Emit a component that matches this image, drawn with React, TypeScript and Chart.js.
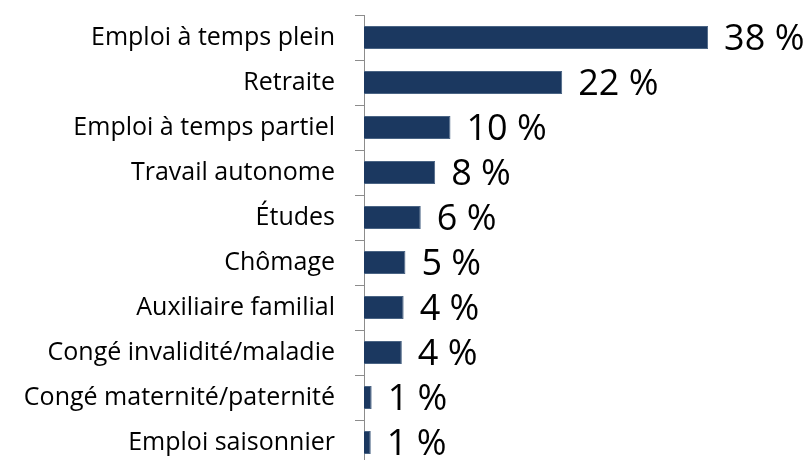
import React, { useEffect, useRef } from "react";
import { Chart, registerables } from "chart.js";

Chart.register(...registerables);

const categories = [
  "Emploi à temps plein",
  "Retraite",
  "Emploi à temps partiel",
  "Travail autonome",
  "Études",
  "Chômage",
  "Auxiliaire familial",
  "Congé invalidité/maladie",
  "Congé maternité/paternité",
  "Emploi saisonnier",
];
const values = [38.2, 22.0, 9.6, 7.9, 6.3, 4.6, 4.4, 4.2, 0.85, 0.75];
const valueLabels = ["38 %", "22 %", "10 %", "8 %", "6 %", "5 %", "4 %", "4 %", "1 %", "1 %"];

const FONT = "'Open Sans', 'Noto Sans', sans-serif";

const dataLabelPlugin = {
  id: "valueLabels",
  afterDatasetsDraw(chart: any) {
    const ctx = chart.ctx;
    const meta = chart.getDatasetMeta(0);
    ctx.save();
    ctx.font = `36px ${FONT}`;
    ctx.fillStyle = "#000000";
    ctx.textAlign = "left";
    ctx.textBaseline = "middle";
    meta.data.forEach((bar: any, i: number) => {
      ctx.fillText(valueLabels[i], bar.x + 16, bar.y + 2);
    });
    ctx.restore();
  },
};

export default function App() {
  const ref = useRef<HTMLCanvasElement>(null);
  useEffect(() => {
    document.body.style.margin = "0";
    const chart = new Chart(ref.current!, {
      type: "bar",
      data: {
        labels: categories,
        datasets: [
          {
            data: values,
            backgroundColor: "#1B3860",
            borderColor: "#4A6484",
            borderWidth: 1,
            categoryPercentage: 1,
            barPercentage: 0.51,
          },
        ],
      },
      options: {
        indexAxis: "y",
        animation: false,
        responsive: false,
        maintainAspectRatio: false,
        layout: { padding: { top: 15, right: 0, bottom: 0, left: 0 } },
        plugins: { legend: { display: false }, tooltip: { enabled: false } },
        scales: {
          x: { display: false, min: 0, max: 49.4 },
          y: {
            afterFit: (scale: any) => {
              scale.width = 364;
              scale.paddingTop = 0;
              scale.paddingBottom = 0;
            },
            grid: {
              offset: true,
              drawOnChartArea: false,
              drawTicks: true,
              tickLength: 9,
              color: "#8C8C8C",
            },
            border: { display: true, color: "#8C8C8C", width: 1 },
            ticks: {
              padding: 20,
              color: "#000000",
              font: { family: FONT, size: 25 },
            },
          },
        },
      },
      plugins: [dataLabelPlugin],
    });
    return () => chart.destroy();
  }, []);
  return (
    <div style={{ width: 809, height: 460, overflow: "hidden" }}>
      <canvas ref={ref} width={809} height={465} style={{ display: "block" }} />
    </div>
  );
}
